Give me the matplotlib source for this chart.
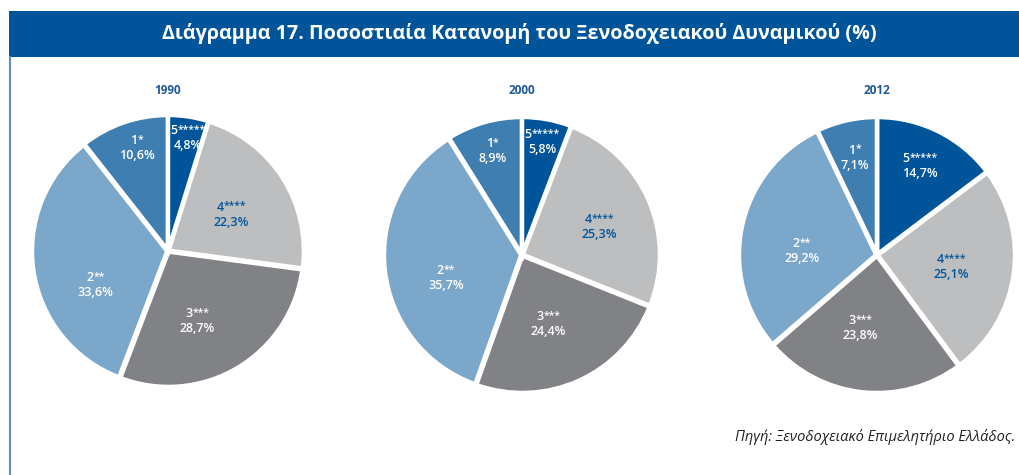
import matplotlib
matplotlib.use("Agg")
import matplotlib.pyplot as plt
from matplotlib.offsetbox import TextArea, HPacker, VPacker, AnnotationBbox
import numpy as np

plt.rcParams['font.family'] = ['Open Sans', 'DejaVu Sans']

# ---------------- data ----------------
title = "Διάγραμμα 17. Ποσοστιαία Κατανομή του Ξενοδοχειακού Δυναμικού (%)"
source = "Πηγή: Ξενοδοχειακό Επιμελητήριο Ελλάδος."
years = ["1990", "2000", "2012"]
categories = ["5*****", "4****", "3***", "2**", "1*"]
values_1990 = [4.8, 22.3, 28.7, 33.6, 10.6]
values_2000 = [5.8, 25.3, 24.4, 35.7, 8.9]
values_2012 = [14.7, 25.1, 23.8, 29.2, 7.1]
all_values = [values_1990, values_2000, values_2012]

# ---------------- style / layout ----------------
W, H = 1019, 475
colors = ["#00559A", "#BCBEC0", "#808285", "#7BA7CB", "#3F7EB0"]
label_colors = ["white", "#00559A", "white", "white", "white"]
bar_color = "#00559A"
year_color = "#1F5A96"

centers = [(168, 251), (522, 255), (877, 255)]
radii = [135, 137, 137]
# label anchor positions (angle deg, fraction of radius)
label_polar = [
    [(80, 0.85), (30, 0.54), (-67, 0.56), (205, 0.59), (107, 0.80)],
    [(80, 0.84), (20, 0.60), (-69, 0.54), (197, 0.58), (106, 0.79)],
    [(64, 0.72), (-9, 0.55), (-103, 0.55), (177, 0.55), (103, 0.73)],
]

fig = plt.figure(figsize=(W / 100, H / 100), dpi=100)
fig.patch.set_facecolor("white")

# title bar
bg = fig.add_axes([0, 0, 1, 1])
bg.set_xlim(0, W)
bg.set_ylim(H, 0)
bg.axis("off")
bg.add_patch(plt.Rectangle((9, 10.5), W - 9, 46, color=bar_color, lw=0))
bg.plot([10.5, 10.5], [56, H], color="#5B8FC4", lw=1.5, solid_capstyle="butt")
bg.text(519, 34, title, color="white", fontsize=14.2, fontweight="bold",
        ha="center", va="center")
bg.text(1015, 437, source, color="#231F20", fontsize=10.5, style="italic",
        ha="right", va="center")


def make_label(cat, val, color):
    digit, stars = cat[0], cat[1:]
    tp = dict(color=color, fontweight="semibold")
    t_digit = TextArea(digit, textprops=dict(fontsize=9, **tp))
    t_stars = TextArea(stars, textprops=dict(fontsize=7.5, **tp))
    line1 = HPacker(children=[t_digit, t_stars], align="top", pad=0, sep=0)
    t_val = TextArea(f"{val:.1f}%".replace(".", ","), textprops=dict(fontsize=9, **tp))
    return VPacker(children=[line1, t_val], align="center", pad=0, sep=1.5)


half = 150
for i, (year, vals) in enumerate(zip(years, all_values)):
    cx, cy = centers[i]
    ax = fig.add_axes([(cx - half) / W, 1 - (cy + half) / H, 2 * half / W, 2 * half / H])
    r = radii[i] / half
    ax.pie(vals, colors=colors, startangle=90, counterclock=False, radius=r,
           explode=[0.006] * len(vals),
           wedgeprops=dict(edgecolor="white", linewidth=3))
    ax.set_xlim(-1, 1)
    ax.set_ylim(-1, 1)
    ax.set_aspect("equal")
    ax.axis("off")
    for j, (cat, v) in enumerate(zip(categories, vals)):
        ang, frac = label_polar[i][j]
        x = r * frac * np.cos(np.radians(ang))
        y = r * frac * np.sin(np.radians(ang))
        ab = AnnotationBbox(make_label(cat, v, label_colors[j]), (x, y),
                            xycoords="data", frameon=False, pad=0,
                            box_alignment=(0.5, 0.5))
        ax.add_artist(ab)
    bg.text(cx, 90, year, color=year_color, fontsize=8.5, fontweight="bold",
            ha="center", va="center")

fig.savefig("out.png", dpi=100, facecolor="white")
